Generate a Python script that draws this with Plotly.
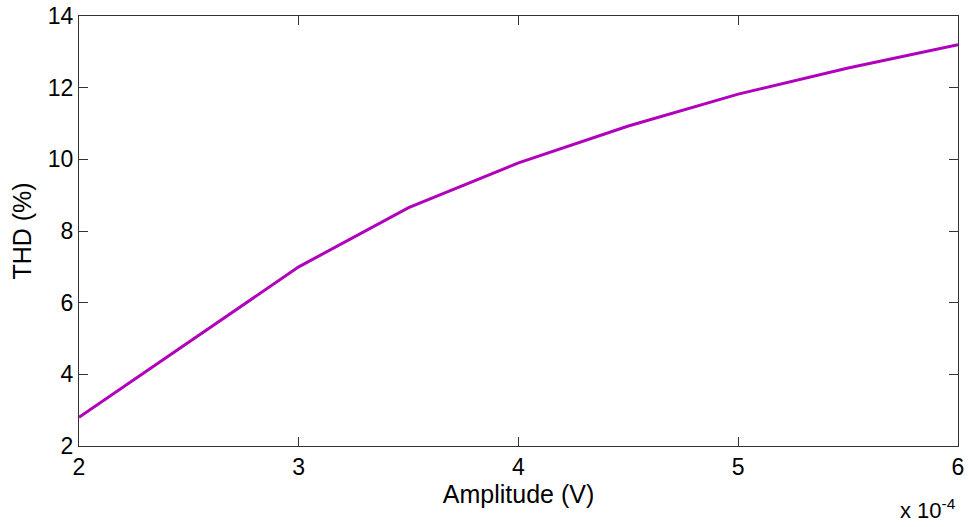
import plotly.graph_objects as go

amplitude = [2e-4, 2.5e-4, 3e-4, 3.5e-4, 4e-4, 4.5e-4, 5e-4, 5.5e-4, 6e-4]
thd = [2.8, 4.9, 7.0, 8.65, 9.9, 10.93, 11.82, 12.55, 13.2]

x_ticks = [2e-4, 3e-4, 4e-4, 5e-4, 6e-4]
x_tick_labels = ["2", "3", "4", "5", "6"]
y_ticks = [2, 4, 6, 8, 10, 12, 14]

fig = go.Figure()
fig.add_trace(go.Scatter(x=amplitude, y=thd, mode="lines",
                         line=dict(color="#b000bc", width=3), showlegend=False))

font = "Liberation Sans, Arial, sans-serif"
axis_common = dict(showline=True, linecolor="#333333", linewidth=1.3, mirror="allticks",
                   ticks="inside", ticklen=9, tickcolor="#333333", tickwidth=1.3,
                   showgrid=False, zeroline=False, automargin=False,
                   tickfont=dict(family=font, size=23, color="black"))

fig.update_layout(
    width=969, height=527,
    margin=dict(l=79, r=11, t=16, b=81),
    plot_bgcolor="white", paper_bgcolor="white",
    xaxis=dict(range=[2e-4, 6e-4], tickvals=x_ticks, ticktext=x_tick_labels,
               title=dict(text="Amplitude (V)", font=dict(family=font, size=25, color="black"),
                          standoff=2),
               **axis_common),
    yaxis=dict(range=[2, 14], tickvals=y_ticks,
               title=dict(text="THD (%)", font=dict(family=font, size=25, color="black"),
                          standoff=8),
               **axis_common),
)
fig.add_annotation(text="x 10<sup>-4</sup>", xref="paper", yref="paper",
                   x=1.0, y=-0.183, xanchor="right", yanchor="bottom", showarrow=False,
                   font=dict(family=font, size=22, color="black"))

fig.write_html("out.html")
